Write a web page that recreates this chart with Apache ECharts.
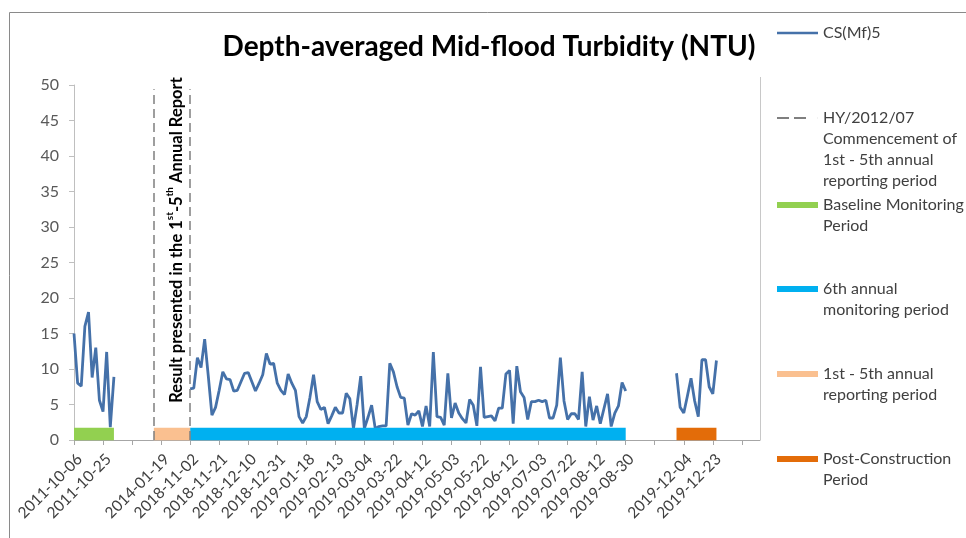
<!DOCTYPE html>
<html><head><meta charset="utf-8">
<script src="https://cdn.jsdelivr.net/npm/echarts@6/dist/echarts.min.js"></script>
<style>html,body{margin:0;padding:0;background:#fff}#c{width:966px;height:538px}</style>
</head><body><div id="c"></div>
<script>
// ---------------- data ----------------
const titleText = 'Depth-averaged Mid-flood Turbidity (NTU)';
const tickLabels = ['2011-10-06','2011-10-25','','2014-01-19','2018-11-02','2018-11-21','2018-12-10','2018-12-31',
  '2019-01-18','2019-02-13','2019-03-04','2019-03-22','2019-04-12','2019-05-03','2019-05-22','2019-06-12',
  '2019-07-03','2019-07-22','2019-08-12','2019-08-30','','2019-12-04','2019-12-23',''];
const labelStep = 8;          // one labelled date every 8 categories
const categoryCount = 190;
const yTicks = [0, 5, 10, 15, 20, 25, 30, 35, 40, 45, 50];

const mf5Baseline = [15.0, 8.0, 7.6, 16.0, 18.0, 8.8, 13.0, 5.6, 4.0, 12.4, 1.8, 8.9];
const baselineStart = 0;
const mf5Monitoring = [
  7.2, 7.3, 11.6, 10.2, 14.2, 9.0, 3.5, 4.6, 7.0, 9.6,
  8.6, 8.5, 6.9, 7.0, 8.2, 9.4, 9.5, 8.2, 6.9, 8.0,
  9.2, 12.2, 10.7, 10.8, 8.0, 7.0, 6.4, 9.3, 8.0, 7.0,
  3.3, 2.4, 3.3, 6.0, 9.2, 5.4, 4.3, 4.6, 2.3, 3.4,
  4.6, 3.8, 3.8, 6.6, 5.8, 1.6, 5.0, 9.0, 1.6, 3.2,
  4.9, 1.6,
  1.9, 2.0, 2.0, 10.8, 9.6, 7.5, 6.0, 5.9, 2.1, 3.7,
  3.5, 4.1, 1.9, 4.8, 1.9, 12.4, 3.3, 3.2, 2.1, 9.4,
  3.1, 5.2, 3.8, 3.0, 2.4, 5.7, 4.9, 2.0, 10.3, 3.2,
  3.3, 3.4, 2.7, 4.5, 4.5, 9.3, 9.8, 2.3, 10.4, 6.8,
  6.0, 2.9, 5.4, 5.4, 5.6, 5.4, 5.6, 3.1, 3.1, 4.9,
  11.6, 5.5, 2.9, 3.7, 3.7, 2.9, 9.6, 1.9, 6.1, 2.8,
  4.8, 2.3, 4.4, 6.5, 1.9, 3.8, 4.8, 8.1, 6.9];
const monitoringStart = 32;
const mf5Post = [9.4, 4.6, 3.8, 6.2, 8.7, 5.5, 3.3, 11.3, 11.3, 7.5, 6.5, 11.2];
const postStart = 166;

const commencementIdx = [22, 32];   // dashed vertical markers (category index)
const periodBarLevel = 0.85;
const periodNames = ['Baseline Monitoring\nPeriod', '6th annual\nmonitoring period', '1st - 5th annual\nreporting period', 'Post-Construction\nPeriod'];
const periodFrom = [0, 32, 22, 166];
const periodTo   = [11, 152, 32, 177];

const lineName = 'CS(Mf)5';
const dashName = 'HY/2012/07\nCommencement of\n1st - 5th annual\nreporting period';

// ---------------- build ----------------
const categories = Array.from({length: categoryCount}, (_, i) => (i % labelStep === 0 ? (tickLabels[i / labelStep] || '') : ''));
const mf5 = new Array(categoryCount).fill(null);
[[mf5Baseline, baselineStart], [mf5Monitoring, monitoringStart], [mf5Post, postStart]].forEach(([arr, s]) => arr.forEach((v, k) => { mf5[s + k] = v; }));

const periodColors = ['#92D050', '#00B0F0', '#FAC090', '#E36C09'];
const FONT = 'Lato, "Open Sans", sans-serif';

const periodSeries = periodNames.map((nm, p) => ({
  name: nm, type: 'line', color: periodColors[p], symbol: 'none', clip: false, silent: true,
  lineStyle: {width: 12.5, cap: 'butt'}, z: 4,
  data: categories.map((_, i) => (i >= periodFrom[p] && i <= periodTo[p]) ? periodBarLevel : null)
}));

const legendNames = [lineName, dashName].concat(periodNames);
const legendIcons = ['rect', 'path://M0,0H12V2H0ZM17,0H29V2H17ZM40.9,0H41V2H40.9Z', 'rect', 'rect', 'rect', 'rect'];
const legendIconH = [2.5, 2, 6, 6, 6, 6];
const legendCenters = [33, 118, 205, 289, 374, 459];
const LH = 21;
const LFS = 16;

const legends = legendNames.map((nm, i) => ({
  data: [nm], orient: 'vertical', left: 777, top: legendCenters[i] - LH / 2, padding: 0,
  itemWidth: 41, itemHeight: legendIconH[i], icon: legendIcons[i], symbolKeepAspect: false,
  selectedMode: false,
  formatter: n => n.split('\n')[0],
  textStyle: {fontFamily: FONT, fontSize: LFS, color: '#404040', lineHeight: LH}
}));

const graphics = [
  {type: 'line', shape: {x1: 9.5, y1: 12.5, x2: 966, y2: 12.5}, style: {stroke: '#8a8a8a', lineWidth: 1}},
  {type: 'line', shape: {x1: 9.5, y1: 12.5, x2: 9.5, y2: 538}, style: {stroke: '#8a8a8a', lineWidth: 1}},
  {type: 'line', shape: {x1: 760.5, y1: 77, x2: 760.5, y2: 440}, style: {stroke: '#c8c8c8', lineWidth: 1}},
  {type: 'text', x: 175, y: 240, rotation: Math.PI / 2,
   style: {
     text: '{a|Result presented in the 1}{s|st}{a|-5}{s|th}{a| Annual Report}',
     align: 'center', verticalAlign: 'middle',
     rich: {
       a: {fontFamily: FONT, fontWeight: 'bold', fontSize: 16.5, fill: '#000', lineHeight: 20, verticalAlign: 'bottom'},
       s: {fontFamily: FONT, fontWeight: 'bold', fontSize: 10, fill: '#000', lineHeight: 20, verticalAlign: 'top'}
     }
   }}
];
legendNames.forEach((nm, i) => {
  nm.split('\n').slice(1).forEach((ln, k) => {
    graphics.push({type: 'text', x: 823, y: legendCenters[i] + LH * (k + 1),
      style: {text: ln, fontFamily: FONT, fontSize: LFS, fill: '#404040', verticalAlign: 'middle', align: 'left'}});
  });
});

const chart = echarts.init(document.getElementById('c'), null, {renderer: 'canvas'});
chart.setOption({
  backgroundColor: '#fff',
  animation: false,
  title: {text: titleText, left: 484, top: 28, textAlign: 'center',
    textStyle: {fontFamily: FONT, fontWeight: 'bold', fontSize: 28, color: '#000'}},
  legend: legends,
  grid: {left: 74, right: 206, top: 85, bottom: 98, containLabel: false},
  xAxis: {
    type: 'category', data: categories, boundaryGap: false,
    axisLine: {lineStyle: {color: '#a6a6a6'}},
    axisTick: {show: true, interval: labelStep - 1, length: 5, lineStyle: {color: '#a6a6a6'}},
    axisLabel: {interval: labelStep - 1, rotate: 45, margin: 11, verticalAlign: 'top', fontFamily: FONT, fontSize: 15.5, color: '#404040'},
    splitLine: {show: false}
  },
  yAxis: {
    type: 'value', min: yTicks[0], max: yTicks[yTicks.length - 1], interval: yTicks[1] - yTicks[0],
    axisLine: {show: true, lineStyle: {color: '#bfbfbf'}},
    axisTick: {show: true, length: 5, lineStyle: {color: '#bfbfbf'}},
    axisLabel: {margin: 15, fontFamily: FONT, fontSize: 16, color: '#595959'},
    splitLine: {show: false}
  },
  series: [
    {name: lineName, type: 'line', data: mf5, color: '#4571A9', symbol: 'none', connectNulls: false,
     lineStyle: {width: 2.8}, z: 3},
    {name: dashName, type: 'line', data: [], color: '#7f7f7f', symbol: 'none',
     markLine: {silent: true, symbol: ['none', 'none'], label: {show: false},
       lineStyle: {color: '#7f7f7f', width: 1.5, type: [9, 5]},
       data: commencementIdx.map(ix => [{coord: [ix, 0]}, {coord: [ix, 49.4]}])}}
  ].concat(periodSeries),
  graphic: graphics
});
</script></body></html>
